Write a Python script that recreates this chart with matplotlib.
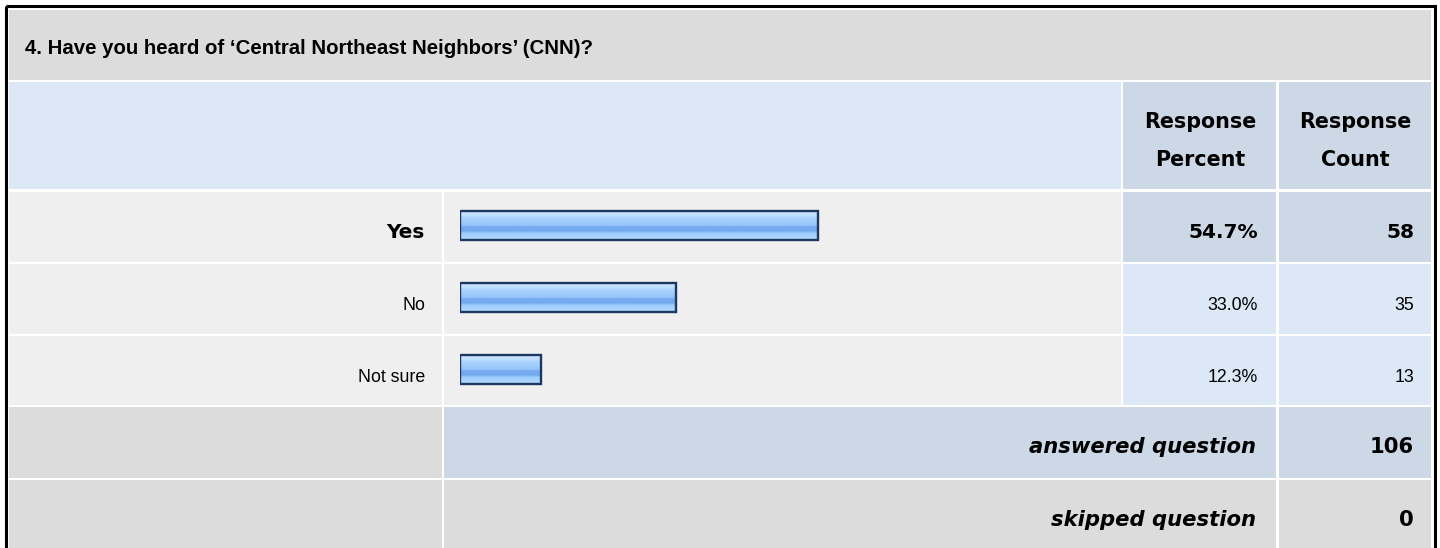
import numpy as np
import matplotlib
matplotlib.use('Agg')
import matplotlib.pyplot as plt
from matplotlib.patches import Rectangle
from matplotlib.colors import LinearSegmentedColormap

question = "4. Have you heard of \u2018Central Northeast Neighbors\u2019 (CNN)?"
answers = ['Yes', 'No', 'Not sure']
percent = [54.7, 33.0, 12.3]
counts = [58, 35, 13]
answered = 106
skipped = 0

W, H = 1440, 548
fig = plt.figure(figsize=(W/100, H/100), dpi=100)
ax = fig.add_axes([0, 0, 1, 1])
ax.set_xlim(0, W)
ax.set_ylim(H, 0)
ax.axis('off')

GRAY = '#dcdcdc'
LIGHT = '#dce8f5'
DARK = '#ccd8e6'
ROW = '#efefef'

def cell(x0, x1, y0, y1, c):
    ax.add_patch(Rectangle((x0, y0), x1-x0, y1-y0, facecolor=c, edgecolor='none', zorder=1))

# outer frame
ax.add_patch(Rectangle((5.5, 6), 1429.5, 600, facecolor='none', edgecolor='black', lw=2.2, zorder=5))

# columns
c_lab = (9, 442)
c_bar = (444, 1121)
c_pct = (1123, 1276)
c_cnt = (1279, 1431)

cell(9, 1431, 10, 80, GRAY)
ax.text(25, 54.5, question, fontsize=14.7, fontweight='bold', family='Liberation Sans', va='baseline', zorder=6)

# header
cell(9, 1121, 82, 189, LIGHT)
cell(*c_pct, 82, 189, DARK)
cell(*c_cnt, 82, 189, DARK)
hb = dict(fontsize=14.9, fontweight='bold', family='DejaVu Sans', va='baseline', ha='center', zorder=6)
ax.text(1200, 128.5, 'Response', **hb)
ax.text(1200, 166.5, 'Percent', **hb)
ax.text(1355, 128.5, 'Response', **hb)
ax.text(1355, 166.5, 'Count', **hb)

top = np.argmax(counts)
row_tops = [192, 264, 336]
for i, a in enumerate(answers):
    y0 = row_tops[i]
    y1 = y0 + 70 if i < 2 else 405
    cell(*c_lab, y0, y1, ROW)
    cell(*c_bar, y0, y1, ROW)
    cc = DARK if i == top else LIGHT
    cell(*c_pct, y0, y1, cc)
    cell(*c_cnt, y0, y1, cc)
    if i == top:
        st = dict(fontsize=14.5, fontweight='bold', family='DejaVu Sans')
    else:
        st = dict(fontsize=12.8, family='Liberation Sans')
    bl = y0 + 45.5
    ax.text(425, bl, a, ha='right', va='baseline', zorder=6, **st)
    ax.text(1258, bl, '%.1f%%' % percent[i], ha='right', va='baseline', zorder=6, **st)
    ax.text(1414, bl, str(counts[i]), ha='right', va='baseline', zorder=6, **st)

# summary rows
cell(*c_lab, 407, 478, GRAY)
cell(444, 1276, 407, 478, DARK)
cell(*c_cnt, 407, 478, DARK)
cell(*c_lab, 480, 560, GRAY)
cell(444, 1276, 480, 560, GRAY)
cell(*c_cnt, 480, 560, GRAY)
sb = dict(fontsize=15.2, fontweight='bold', family='DejaVu Sans', va='baseline', ha='right', zorder=6)
ax.text(1256, 453, 'answered question', style='oblique', **sb)
ax.text(1414, 453, str(answered), **sb)
ax.text(1256, 526, 'skipped question', style='oblique', **sb)
ax.text(1414, 526, str(skipped), **sb)

# bars
bx = fig.add_axes([460/W, 1 - 405.5/H, 655/W, 216/H])
bx.axis('off')
bx.patch.set_alpha(0)

grad = LinearSegmentedColormap.from_list('g', [
    (0.0, '#cbe4ff'), (0.14, '#c4e0ff'), (0.22, '#aad4ff'), (0.40, '#9ecbfc'),
    (0.50, '#94c4fa'), (0.54, '#74aaf0'), (0.70, '#74aaf0'), (0.76, '#99ccff'),
    (0.88, '#aad4ff'), (1.0, '#b2d9ff')])
g = np.linspace(0, 1, 60).reshape(-1, 1)

bh = 29/72
bars = bx.barh(range(len(answers)), percent, height=bh, facecolor='none',
               edgecolor='#1d3760', lw=1.7, zorder=3)
for b in bars:
    x0, y0, w, h = b.get_x(), b.get_y(), b.get_width(), b.get_height()
    bx.imshow(g, cmap=grad, aspect='auto', origin='upper', interpolation='bilinear',
              extent=(x0, x0 + w, y0 + h, y0), zorder=2)
bx.set_xlim(0, 100)
bx.set_ylim(2.5, -0.5)

fig.savefig('out.png', dpi=100)
